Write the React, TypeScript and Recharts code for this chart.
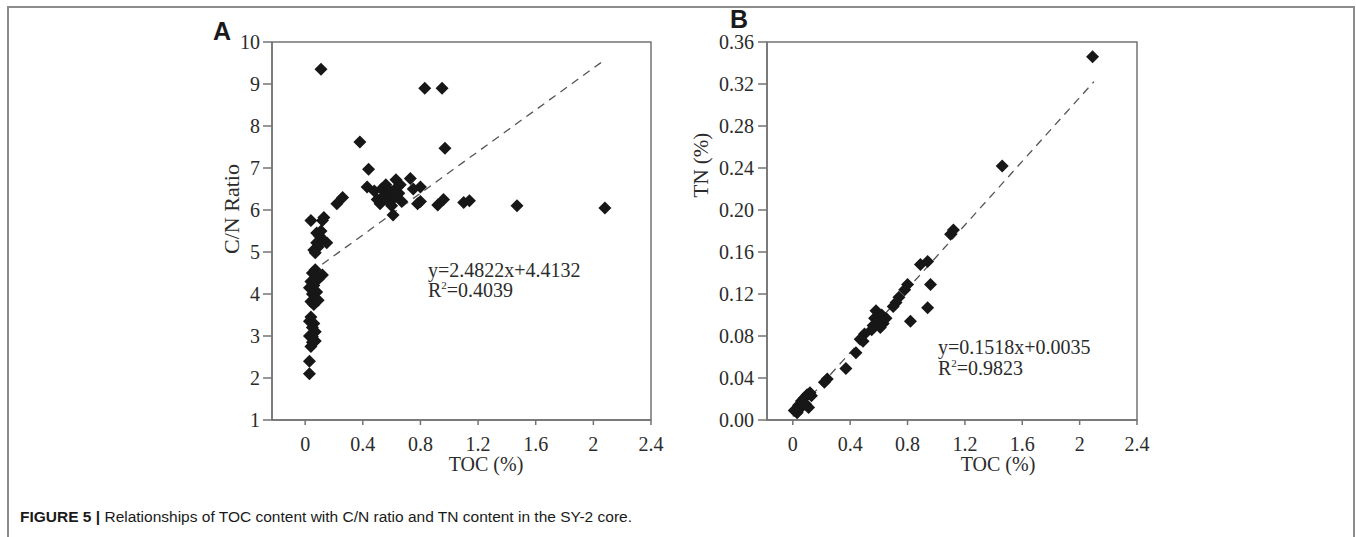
import {
  ReferenceArea,
  ReferenceLine,
  Scatter,
  ScatterChart,
  XAxis,
  YAxis,
} from "recharts";

// Panel A: TOC (%) vs C/N ratio
const tocA = [
  0.11, 0.83, 0.95, 0.38, 0.97, 0.44,
  0.43, 0.48, 0.5, 0.52, 0.53, 0.55, 0.56, 0.58, 0.59, 0.6, 0.61, 0.62, 0.63, 0.64, 0.65, 0.66, 0.67,
  0.73, 0.75, 0.8, 0.8, 0.78, 0.92, 0.96, 1.1, 1.14, 1.47, 2.08, 0.22, 0.26,
  0.04, 0.13, 0.12, 0.08, 0.1, 0.12, 0.08, 0.15, 0.06, 0.09, 0.07, 0.11,
  0.07, 0.12, 0.05, 0.09, 0.04, 0.06, 0.03, 0.08, 0.05, 0.07, 0.04, 0.06, 0.09,
  0.04, 0.03, 0.06, 0.05, 0.07, 0.03, 0.05, 0.07, 0.04, 0.05, 0.03, 0.03,
];
const cnA = [
  9.35, 8.9, 8.9, 7.62, 7.47, 6.97,
  6.55, 6.45, 6.25, 6.15, 6.5, 6.35, 6.6, 6.2, 6.45, 6.1, 5.88, 6.3, 6.72, 6.55, 6.4, 6.6, 6.2,
  6.75, 6.5, 6.55, 6.2, 6.15, 6.12, 6.25, 6.18, 6.22, 6.1, 6.05, 6.15, 6.3,
  5.75, 5.82, 5.75, 5.45, 5.38, 5.3, 5.22, 5.22, 5.05, 5.12, 4.98, 5.5,
  4.58, 4.45, 4.5, 4.35, 4.3, 4.2, 4.15, 4.05, 4.0, 3.9, 3.82, 3.75, 3.85,
  3.45, 3.35, 3.3, 3.2, 3.1, 3.0, 2.98, 2.88, 2.75, 2.85, 2.4, 2.1,
];

// Panel B: TOC (%) vs TN (%)
const tocB = [
  2.09, 1.46, 1.1, 1.12, 0.94, 0.89, 0.96, 0.8, 0.78, 0.74, 0.72, 0.94, 0.82, 0.7,
  0.58, 0.6, 0.62, 0.57, 0.59, 0.63, 0.56, 0.61, 0.55, 0.65,
  0.5, 0.47, 0.49, 0.44, 0.37, 0.24, 0.22,
  0.12, 0.1, 0.08, 0.13, 0.06, 0.09, 0.04, 0.05, 0.11, 0.02, 0.03, 0.07, 0.01,
];
const tnB = [
  0.346, 0.242, 0.177, 0.181, 0.151, 0.148, 0.129, 0.129, 0.124, 0.117, 0.112, 0.107, 0.094, 0.108,
  0.104, 0.101, 0.1, 0.097, 0.094, 0.092, 0.09, 0.088, 0.086, 0.097,
  0.082, 0.077, 0.075, 0.064, 0.049, 0.039, 0.036,
  0.026, 0.024, 0.021, 0.023, 0.018, 0.015, 0.014, 0.011, 0.012, 0.01, 0.007, 0.016, 0.009,
];

const xTicks = [0, 0.4, 0.8, 1.2, 1.6, 2, 2.4];
const yTicksA = [1, 2, 3, 4, 5, 6, 7, 8, 9, 10];
const yTicksB = [0, 0.04, 0.08, 0.12, 0.16, 0.2, 0.24, 0.28, 0.32, 0.36];

// fitted lines printed on the figure
const fitA = { slope: 2.4822, intercept: 4.4132, from: 0.04, to: 2.07 };
const fitB = { slope: 0.1518, intercept: 0.0035, from: 0.0, to: 2.1 };

const dataA = tocA.map((x, i) => ({ x, y: cnA[i] }));
const dataB = tocB.map((x, i) => ({ x, y: tnB[i] }));

const serif = "'Liberation Serif', 'Times New Roman', serif";
const sans = "'Liberation Sans', Arial, sans-serif";
const axisColor = "#737373";
const tick = { fill: "#2b2b2b", fontSize: 20, fontFamily: serif };

function Diamond(props: any) {
  const { cx, cy } = props;
  if (cx == null || cy == null) return null;
  const r = 6.5;
  return (
    <path
      d={`M${cx} ${cy - r}L${cx + r} ${cy}L${cx} ${cy + r}L${cx - r} ${cy}Z`}
      fill="#171717"
    />
  );
}

function fitSegment(f: typeof fitA) {
  return [
    { x: f.from, y: f.slope * f.from + f.intercept },
    { x: f.to, y: f.slope * f.to + f.intercept },
  ];
}

export default function App() {
  return (
    <div
      style={{
        position: "absolute",
        left: 0,
        top: 0,
        width: 1356,
        height: 537,
        background: "#fff",
        overflow: "hidden",
      }}
    >
      {/* figure frame */}
      <div
        style={{
          position: "absolute",
          left: 7,
          top: 6,
          width: 1344,
          height: 540,
          borderTop: "2px solid #8c8c8c",
          borderLeft: "2px solid #8c8c8c",
          borderRight: "2px solid #8c8c8c",
        }}
      />

      <div style={{ position: "absolute", left: 180, top: 0 }}>
        <ScatterChart
          width={500}
          height={490}
          margin={{ top: 42, right: 29, left: 32, bottom: 20 }}
        >
          <XAxis
            type="number"
            dataKey="x"
            domain={[-0.23, 2.4]}
            ticks={xTicks}
            allowDataOverflow
            height={50}
            tick={tick}
            tickSize={5}
            tickMargin={12}
            stroke={axisColor}
            strokeWidth={1.5}
          />
          <YAxis
            type="number"
            dataKey="y"
            domain={[1, 10]}
            ticks={yTicksA}
            allowDataOverflow
            width={60}
            tick={tick}
            tickSize={9}
            tickMargin={3}
            stroke={axisColor}
            strokeWidth={1.5}
          />
          <ReferenceArea
            x1={-0.23}
            x2={2.4}
            y1={1}
            y2={10}
            fill="none"
            stroke={axisColor}
            strokeWidth={1.5}
            ifOverflow="visible"
          />
          <ReferenceLine
            segment={fitSegment(fitA)}
            stroke="#555"
            strokeWidth={1.3}
            strokeDasharray="8 6"
            ifOverflow="visible"
          />
          <Scatter data={dataA} shape={Diamond} isAnimationActive={false} />
        </ScatterChart>
      </div>

      <div style={{ position: "absolute", left: 700, top: 0 }}>
        <ScatterChart
          width={470}
          height={490}
          margin={{ top: 42, right: 33, left: 11, bottom: 20 }}
        >
          <XAxis
            type="number"
            dataKey="x"
            domain={[-0.18, 2.4]}
            ticks={xTicks}
            allowDataOverflow
            height={50}
            tick={tick}
            tickSize={5}
            tickMargin={12}
            stroke={axisColor}
            strokeWidth={1.5}
          />
          <YAxis
            type="number"
            dataKey="y"
            domain={[0, 0.36]}
            ticks={yTicksB}
            allowDataOverflow
            width={56}
            tick={tick}
            tickSize={9}
            tickMargin={4}
            tickFormatter={(v: number) => v.toFixed(2)}
            stroke={axisColor}
            strokeWidth={1.5}
          />
          <ReferenceArea
            x1={-0.18}
            x2={2.4}
            y1={0}
            y2={0.36}
            fill="none"
            stroke={axisColor}
            strokeWidth={1.5}
            ifOverflow="visible"
          />
          <ReferenceLine
            segment={fitSegment(fitB)}
            stroke="#555"
            strokeWidth={1.3}
            strokeDasharray="8 6"
            ifOverflow="visible"
          />
          <Scatter data={dataB} shape={Diamond} isAnimationActive={false} />
        </ScatterChart>
      </div>

      {/* titles, axis names and equations */}
      <svg
        width={1356}
        height={537}
        style={{ position: "absolute", left: 0, top: 0, pointerEvents: "none" }}
      >
        <g fontFamily={sans} fontWeight="bold" fontSize={25} fill="#1a1a1a">
          <text x={213} y={40}>A</text>
          <text x={730} y={28}>B</text>
        </g>
        <g fontFamily={serif} fill="#2b2b2b">
          <text x={486} y={471} fontSize={20} textAnchor="middle">TOC (%)</text>
          <text x={998} y={471} fontSize={20} textAnchor="middle">TOC (%)</text>
          <text
            x={239}
            y={209}
            fontSize={22}
            textAnchor="middle"
            transform="rotate(-90 239 209)"
          >
            C/N Ratio
          </text>
          <text
            x={708}
            y={165}
            fontSize={21}
            textAnchor="middle"
            transform="rotate(-90 708 165)"
          >
            TN (%)
          </text>
          <text x={428} y={277} fontSize={20}>y=2.4822x+4.4132</text>
          <text x={428} y={297} fontSize={20}>
            R<tspan dy={-8} fontSize={11}>2</tspan>
            <tspan dy={8}>=0.4039</tspan>
          </text>
          <text x={938} y={354} fontSize={20}>y=0.1518x+0.0035</text>
          <text x={938} y={375} fontSize={20}>
            R<tspan dy={-8} fontSize={11}>2</tspan>
            <tspan dy={8}>=0.9823</tspan>
          </text>
        </g>
        <text x={20} y={522} fontFamily={sans} fontSize={15.5} fill="#1a1a1a">
          <tspan fontWeight="bold">FIGURE 5 | </tspan>
          Relationships of TOC content with C/N ratio and TN content in the SY-2 core.
        </text>
      </svg>
    </div>
  );
}
